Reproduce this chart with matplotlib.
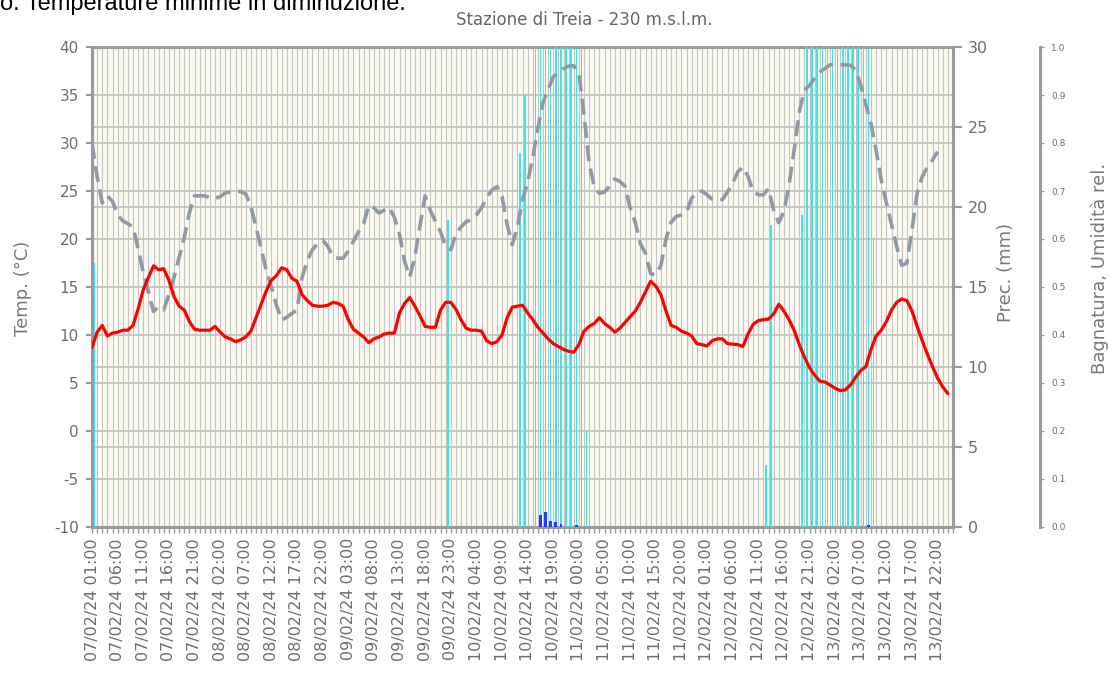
import numpy as np
import pandas as pd
import matplotlib
matplotlib.use("Agg")
import matplotlib.pyplot as plt
from matplotlib.ticker import MultipleLocator, FixedLocator, FormatStrFormatter

plt.rcParams["axes.unicode_minus"] = False

# orari: una misura ogni ora dal 07/02/24 01:00
orari = pd.date_range("2024-02-07 01:00", periods=168, freq="h")

temperatura = [
    8.7, 10.3, 11.0, 9.9, 10.2, 10.3, 10.5, 10.5, 11.0, 12.7,
    14.7, 16.0, 17.2, 16.8, 16.9, 15.7, 14.0, 13.0, 12.6, 11.4,
    10.6, 10.5, 10.5, 10.5, 10.9, 10.3, 9.8, 9.6, 9.3, 9.5,
    9.8, 10.4, 11.8, 13.2, 14.6, 15.7, 16.2, 17.0, 16.8, 15.9,
    15.6, 14.2, 13.6, 13.1, 13.0, 13.0, 13.1, 13.4, 13.3, 13.0,
    11.6, 10.6, 10.2, 9.8, 9.2, 9.6, 9.8, 10.1, 10.2, 10.2,
    12.3, 13.3, 13.9, 13.0, 12.0, 10.9, 10.8, 10.8, 12.6, 13.4,
    13.4, 12.7, 11.6, 10.7, 10.5, 10.5, 10.4, 9.4, 9.1, 9.3,
    10.0, 11.8, 12.9, 13.0, 13.1, 12.3, 11.6, 10.8, 10.2, 9.6,
    9.1, 8.8, 8.5, 8.3, 8.2, 9.0, 10.4, 10.9, 11.2, 11.8,
    11.2, 10.8, 10.3, 10.7, 11.3, 11.9, 12.5, 13.4, 14.5, 15.6,
    15.1, 14.2, 12.5, 11.0, 10.8, 10.4, 10.2, 9.9, 9.1, 9.0,
    8.85, 9.4, 9.6, 9.6, 9.1, 9.05, 9.0, 8.8, 10.1, 11.1,
    11.5, 11.6, 11.65, 12.2, 13.2, 12.5, 11.6, 10.5, 9.0, 7.7,
    6.6, 5.8, 5.2, 5.1, 4.8, 4.45, 4.2, 4.3, 4.8, 5.6,
    6.3, 6.7, 8.5, 9.9, 10.5, 11.4, 12.6, 13.4, 13.75, 13.6,
    12.5, 10.9, 9.4, 8.0, 6.7, 5.5, 4.6, 3.9]

umidita = [
    0.80, 0.73, 0.675, 0.69, 0.678, 0.65, 0.638, 0.632, 0.625, 0.58,
    0.53, 0.49, 0.449, 0.459, 0.452, 0.485, 0.52, 0.562, 0.603, 0.655,
    0.69, 0.69, 0.69, 0.686, 0.685, 0.688, 0.696, 0.698, 0.699, 0.699,
    0.694, 0.668, 0.625, 0.58, 0.535, 0.50, 0.462, 0.431, 0.437, 0.445,
    0.452, 0.52, 0.555, 0.578, 0.59, 0.598, 0.585, 0.563, 0.56, 0.56,
    0.575, 0.595, 0.615, 0.632, 0.67, 0.665, 0.654, 0.66, 0.666, 0.645,
    0.61, 0.553, 0.521, 0.563, 0.628, 0.69, 0.66, 0.637, 0.615, 0.585,
    0.577, 0.61, 0.625, 0.636, 0.64, 0.65, 0.665, 0.685, 0.702, 0.709,
    0.689, 0.63, 0.588, 0.625, 0.682, 0.718, 0.77, 0.83, 0.885, 0.912,
    0.938, 0.946, 0.955, 0.96, 0.961, 0.945, 0.86, 0.758, 0.709, 0.695,
    0.698, 0.71, 0.725, 0.72, 0.71, 0.665, 0.635, 0.59, 0.57, 0.528,
    0.525, 0.545, 0.60, 0.635, 0.647, 0.65, 0.656, 0.685, 0.697, 0.70,
    0.692, 0.683, 0.681, 0.682, 0.698, 0.716, 0.74, 0.75, 0.73, 0.70,
    0.692, 0.692, 0.705, 0.66, 0.634, 0.657, 0.712, 0.785, 0.865, 0.91,
    0.92, 0.935, 0.948, 0.955, 0.963, 0.963, 0.963, 0.963, 0.962, 0.952,
    0.92, 0.88, 0.84, 0.785, 0.723, 0.675, 0.63, 0.585, 0.545, 0.55,
    0.62, 0.695, 0.73, 0.75, 0.765, 0.782]

# bagnatura fogliare (frazione dell'ora), indice dell'ora
bagn_ore = [0, 69, 83, 84, 86, 87, 88, 89, 90, 91, 92, 93, 94, 95, 96,
            131, 132, 138, 139, 140, 141, 142, 143, 144, 145, 146, 147,
            148, 149, 150, 151, 152]
bagn_val = [0.55, 0.64, 0.78, 0.90, 1.0, 1.0, 1.0, 1.0, 1.0, 1.0, 1.0, 1.0,
            1.0, 1.0, 0.20, 0.13, 0.63, 0.65, 1.0, 1.0, 1.0, 1.0, 1.0, 1.0,
            1.0, 1.0, 1.0, 1.0, 1.0, 1.0, 1.0, 0.60]

# precipitazione oraria (mm)
prec_ore = [87, 88, 89, 90, 91, 94, 151]
prec_mm = [0.75, 0.95, 0.40, 0.30, 0.20, 0.15, 0.15]

ore = np.arange(len(orari))
etichette = orari[::5].strftime("%d/%m/%y %H:%M")

grigio = "#9a9a9a"
testo = "#6e6e6e"

fig = plt.figure(figsize=(11.08, 6.81), dpi=100)
ax = fig.add_axes([92 / 1108, 1 - 527 / 681, 861 / 1108, 480 / 681])
ax.set_facecolor("#fcfaf0")
ax.set_zorder(1)

axh = ax.twinx()
axh.set_zorder(2)
axp = ax.twinx()
axp.set_zorder(3)

# bagnatura e umidita' (scala 0-1)
axh.bar(np.array(bagn_ore) + 0.5, bagn_val, width=0.3, color="#3fe4ea", zorder=2)
axh.plot(ore[:len(umidita)], umidita, color="#909aa6", lw=2.6,
         dashes=(4.4, 2.1), zorder=3)

# precipitazione e temperatura
axp.bar(np.array(prec_ore) + 0.5, prec_mm, width=0.55, color="#1e3cff", zorder=2)
axp.plot(ore, temperatura, color="#ff0000", lw=2.3, zorder=4,
         transform=ax.transData, solid_capstyle="round")

ax.set_xlim(0, 168)
ax.set_ylim(-10, 40)
axp.set_ylim(0, 30)
axh.set_ylim(0, 1)

# griglia: ogni ora in verticale, tacche temperatura + precipitazione in orizzontale
ax.xaxis.set_major_locator(FixedLocator(ore[::5]))
ax.xaxis.set_minor_locator(MultipleLocator(1))
ax.set_xticklabels(etichette, rotation=90)
ax.yaxis.set_major_locator(MultipleLocator(5))
ax.yaxis.set_minor_locator(MultipleLocator(50 / 6, offset=-10))
ax.grid(which="both", axis="x", color="#c4c4c4", lw=0.8)
ax.grid(which="both", axis="y", color="#c4c4c4", lw=1.3)

ax.tick_params(axis="x", which="both", length=4, width=1, color=grigio,
               labelsize=11.5, labelcolor=testo, pad=4)
ax.tick_params(axis="y", which="major", length=4.5, width=1.5, color=grigio,
               labelsize=11, labelcolor=testo, pad=5)
ax.tick_params(axis="y", which="minor", length=0)
for s in ax.spines.values():
    s.set_color(grigio)
    s.set_linewidth(2.2)

axp.yaxis.set_major_locator(MultipleLocator(5))
axp.tick_params(axis="y", length=6.5, width=1.5, color=grigio,
                labelsize=11.5, labelcolor=testo, pad=4)
for s in axp.spines.values():
    s.set_visible(False)

axh.spines["right"].set_position(("axes", 1.101))
axh.spines["right"].set_color(grigio)
axh.spines["right"].set_linewidth(2.2)
for k in ["left", "top", "bottom"]:
    axh.spines[k].set_visible(False)
axh.yaxis.set_major_locator(MultipleLocator(0.1))
axh.yaxis.set_major_formatter(FormatStrFormatter("%.1f"))
axh.tick_params(axis="y", length=3, width=1, color=grigio,
                labelsize=6.5, labelcolor=testo, pad=5)

fig.text(23 / 1108, 1 - 288 / 681, "Temp. (°C)", rotation=90, ha="center",
         va="center", fontsize=13, color="#7a7a7a")
fig.text(1006 / 1108, 1 - 272 / 681, "Prec. (mm)", rotation=90, ha="center",
         va="center", fontsize=13, color="#7a7a7a")
fig.text(1100 / 1108, 1 - 268 / 681, "Bagnatura, Umidità rel.", rotation=90,
         ha="center", va="center", fontsize=13, color="#7a7a7a")
fig.text(584 / 1108, 1 - 20 / 681, "Stazione di Treia - 230 m.s.l.m.",
         ha="center", va="center", fontsize=12, color="#666666")
# riga di testo della pagina, tagliata dal bordo superiore come nell'originale
fig.text(0.0, 1 - 10 / 681, "o. Temperature minime in diminuzione.",
         ha="left", va="baseline", fontsize=17, color="black",
         family="Liberation Sans")

fig.savefig("out.png", dpi=100)
